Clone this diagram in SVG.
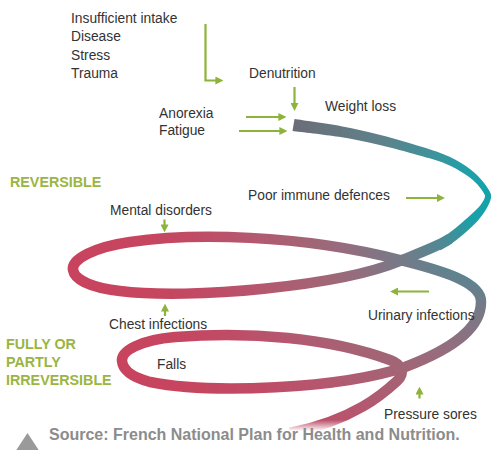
<svg xmlns="http://www.w3.org/2000/svg" width="491" height="450" viewBox="0 0 491 450">
  <defs>
    <style>
      .lbl{font-family:"Liberation Sans",Arial,sans-serif;font-size:13.8px;fill:#333}
      .stage{font-family:"Liberation Sans",Arial,sans-serif;font-size:14.3px;font-weight:bold;fill:#9ab542}
      .src{font-family:"Liberation Sans",Arial,sans-serif;font-size:16px;font-weight:bold;fill:#8c8c8c}
      .arr{fill:none;stroke:#8db33a;stroke-width:2.2;marker-end:url(#ah)}
    </style>
    <marker id="ah" viewBox="0 0 10 10" refX="2" refY="5" markerWidth="8" markerHeight="8" markerUnits="userSpaceOnUse" orient="auto">
      <path d="M0,0 L10,5 L0,10 Z" fill="#8db33a"/>
    </marker>
    <!-- colour of the opening arc: slate grey turning teal -->
    <linearGradient id="gTop" gradientUnits="userSpaceOnUse" x1="293" y1="0" x2="488" y2="0">
      <stop offset="0" stop-color="#6b6d77"/>
      <stop offset="0.45" stop-color="#5f818a"/>
      <stop offset="0.72" stop-color="#3d939c"/>
      <stop offset="0.9" stop-color="#1ea0a8"/>
      <stop offset="1" stop-color="#14a3aa"/>
    </linearGradient>
    <!-- colour of the descending coils: teal near the turn, crimson far away -->
    <radialGradient id="gSpiral" gradientUnits="userSpaceOnUse" cx="490" cy="205" r="420">
      <stop offset="0" stop-color="#14a3aa"/>
      <stop offset="0.06" stop-color="#1c9fa7"/>
      <stop offset="0.138" stop-color="#4c8a95"/>
      <stop offset="0.238" stop-color="#737b88"/>
      <stop offset="0.369" stop-color="#976c7d"/>
      <stop offset="0.44" stop-color="#a26575"/>
      <stop offset="0.583" stop-color="#b5576f"/>
      <stop offset="0.69" stop-color="#bf4c66"/>
      <stop offset="0.833" stop-color="#c6455f"/>
      <stop offset="1" stop-color="#c8435e"/>
    </radialGradient>
    <linearGradient id="gFade" x1="0" y1="0" x2="0" y2="1">
      <stop offset="0" stop-color="#fff" stop-opacity="0"/>
      <stop offset="1" stop-color="#fff"/>
    </linearGradient>
  </defs>

  <rect width="491" height="450" fill="#fff"/>

  <!-- the spiral ribbon -->
  <g id="spiral">
    <path fill="url(#gSpiral)" d="M483.6,182.5 C484.8,184.6 490.4,190.8 491,195 C491.6,199.2 489.2,203.5 487.1,207.6 C485,211.7 482.2,215.5 478.6,219.7 C475,223.9 469.8,228.8 465.5,232.6 C461.2,236.4 457.2,239.55 453,242.5 C448.8,245.45 442.6,249 440.5,250.3 L435.5,241.7 C437.4,240.5 443.15,237.2 447,234.5 C450.85,231.8 454.5,228.8 458.6,225.4 C462.7,222 467.7,217.8 471.4,214.3 C475.1,210.8 478.6,207.6 480.9,204.4 C483.2,201.2 485.4,198.15 485,195 C484.6,191.85 479.5,187.1 478.4,185.5 Z"/>
    <path fill="url(#gTop)" d="M294.5,119.1 C302.3,120.3 326.6,123.5 341.1,126.2 C355.6,128.9 368,131.9 381.4,135.3 C394.8,138.7 410.3,143.3 421.6,146.8 C432.9,150.4 440.9,152.8 449,156.6 C457.2,160.4 464.7,165.2 470.5,169.5 C476.3,173.8 480.2,178.3 483.6,182.5 C487,186.75 489.8,192.9 491,195 L485,195 C483.9,193.4 481.7,188.9 478.4,185.5 C475.2,182.1 471.1,178.2 465.5,174.5 C459.9,170.8 452.9,166.6 445,163.4 C437.2,160.2 429.5,158.3 418.4,155.2 C407.4,152.1 392,147.9 378.7,144.8 C365.5,141.7 353.3,139.1 338.9,136.8 C324.5,134.5 300.2,131.9 292.5,130.9 Z"/>
    <path fill="none" stroke="url(#gSpiral)" stroke-width="10.5" stroke-linejoin="round" d="M450,238.5 C442,244.5 424,251 400,261 C340,286 190,300 120,291 C95,288 75,281 73,270 C71,259 95,247 130,242 C190,233 300,234 400,260 C440,270 482,282 481,302 C481,325 460,346 405,367 C340,389 210,394 150,382 C135,378 123,371 122,361 C121,351 140,340 175,337 C250,331 330,338 390,360 C401,364 406,373 397,381 C385,392 355,420 290,433"/>
    <rect x="0" y="420" width="491" height="11" fill="url(#gFade)"/>
    <rect x="0" y="431" width="491" height="19" fill="#fff"/>
  </g>

  <!-- arrows -->
  <g id="connectors">
    <path class="arr" d="M205.5,24 V80.5 H217"/>
    <path class="arr" d="M294.5,87 V104.5"/>
    <path class="arr" d="M246,117 H280"/>
    <path class="arr" d="M239,131 H281"/>
    <path class="arr" d="M406,198 H438.5"/>
    <path class="arr" d="M164.5,219.5 V226"/>
    <path class="arr" d="M165,316 V310"/>
    <path class="arr" d="M429,291.5 H396.5"/>
    <path class="arr" d="M419.5,398.5 V393"/>
  </g>

  <g id="causes">
    <text class="lbl" x="71" y="22.5">Insufficient intake</text>
    <text class="lbl" x="71" y="41">Disease</text>
    <text class="lbl" x="71" y="59.5">Stress</text>
    <text class="lbl" x="71" y="78">Trauma</text>
  </g>
  <g id="denutrition"><text class="lbl" x="249" y="78">Denutrition</text></g>
  <g id="anorexia-fatigue">
    <text class="lbl" x="159" y="117.5">Anorexia</text>
    <text class="lbl" x="159" y="135">Fatigue</text>
  </g>
  <g id="weight-loss"><text class="lbl" x="325" y="110.5">Weight loss</text></g>
  <g id="immune"><text class="lbl" x="248" y="200">Poor immune defences</text></g>
  <g id="mental"><text class="lbl" x="110" y="215">Mental disorders</text></g>
  <g id="chest"><text class="lbl" x="109" y="328.5">Chest infections</text></g>
  <g id="falls"><text class="lbl" x="157" y="369">Falls</text></g>
  <g id="urinary"><text class="lbl" x="368" y="319.5">Urinary infections</text></g>
  <g id="pressure"><text class="lbl" x="384" y="418.5">Pressure sores</text></g>

  <g id="stage-reversible"><text class="stage" x="10" y="187">REVERSIBLE</text></g>
  <g id="stage-irreversible">
    <text class="stage" x="6" y="349">FULLY OR</text>
    <text class="stage" x="6" y="367">PARTLY</text>
    <text class="stage" x="6" y="385">IRREVERSIBLE</text>
  </g>

  <g id="source">
    <polygon points="27.5,433 40,452 15,452" fill="#9a9a9a"/>
    <text class="src" x="49" y="439.5">Source: French National Plan for Health and Nutrition.</text>
  </g>
</svg>
